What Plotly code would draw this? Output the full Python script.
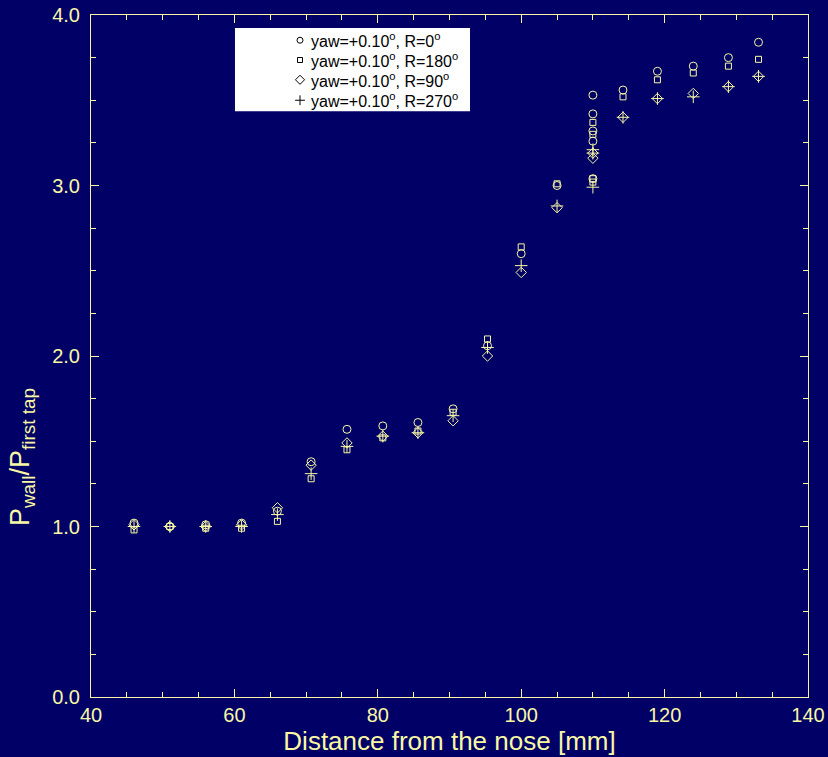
import plotly.graph_objects as go

# Wall pressure ratio along the body, four roll orientations at yaw = +0.10 deg
x_r0 = [46, 51, 56, 61, 66, 70.7, 75.7, 80.7, 85.6, 90.5, 95.3, 100, 105,
        110, 110, 110, 110, 110, 114.2, 119, 124, 128.9, 133.1]
y_r0 = [1.02, 1.00, 1.01, 1.02, 1.09, 1.38, 1.57, 1.59, 1.61, 1.69, 2.06, 2.60, 3.00,
        3.53, 3.42, 3.32, 3.26, 3.04, 3.56, 3.67, 3.70, 3.75, 3.84]

x_r180 = [46, 51, 56, 61, 66, 70.7, 75.7, 80.7, 85.6, 90.5, 95.3, 100, 105,
          110, 110, 110, 110, 114.2, 119, 124, 128.9, 133.1]
y_r180 = [0.98, 1.00, 0.99, 0.99, 1.03, 1.28, 1.45, 1.52, 1.56, 1.67, 2.10, 2.64, 3.01,
          3.37, 3.30, 3.04, 3.02, 3.52, 3.62, 3.66, 3.70, 3.74]

x_r90 = [46, 51, 56, 61, 66, 70.7, 75.7, 80.7, 85.6, 90.5, 95.3, 100, 105,
         110, 110, 114.2, 119, 124, 128.9, 133.1]
y_r90 = [1.01, 1.00, 1.00, 1.01, 1.11, 1.36, 1.49, 1.53, 1.55, 1.62, 2.00, 2.49, 2.87,
         3.19, 3.16, 3.40, 3.51, 3.54, 3.58, 3.64]

x_r270 = [46, 51, 56, 61, 66, 70.7, 75.7, 80.7, 85.6, 90.5, 95.3, 100, 105,
          110, 110, 110, 114.2, 119, 124, 128.9, 133.1]
y_r270 = [1.00, 1.00, 1.00, 1.00, 1.07, 1.31, 1.47, 1.53, 1.55, 1.65, 2.05, 2.53, 2.88,
          3.21, 3.19, 2.99, 3.40, 3.51, 3.52, 3.58, 3.64]

series_names = [
    "yaw=+0.10<sup>o</sup>, R=0<sup>o</sup>",
    "yaw=+0.10<sup>o</sup>, R=180<sup>o</sup>",
    "yaw=+0.10<sup>o</sup>, R=90<sup>o</sup>",
    "yaw=+0.10<sup>o</sup>, R=270<sup>o</sup>",
]

BG = "#000066"
FG = "#F8F8A4"
FONT = "Liberation Sans, Arial, sans-serif"

series = [
    (x_r0, y_r0, "circle-open", 8, 6),
    (x_r180, y_r180, "square-open", 6, 5),
    (x_r90, y_r90, "diamond-open", 8, 7),
    (x_r270, y_r270, "cross-thin-open", 9, 7),
]

fig = go.Figure()

for (xs, ys, sym, sz, _), name in zip(series, series_names):
    fig.add_trace(go.Scatter(
        x=xs, y=ys, mode="markers", name=name, showlegend=False,
        marker=dict(symbol=sym, size=sz, color=FG, line=dict(width=1, color=FG)),
    ))

# key box: white panel with black symbols and labels, on a hidden unit overlay axis
key_x = 0.2915
key_rows = [0.963, 0.934, 0.905, 0.875]
for (xs, ys, sym, _, ksz), name, ky in zip(series, series_names, key_rows):
    fig.add_trace(go.Scatter(
        x=[key_x], y=[ky], xaxis="x2", yaxis="y2", mode="markers",
        showlegend=False, hoverinfo="skip",
        marker=dict(symbol=sym, size=ksz, color="black", line=dict(width=1, color="black")),
    ))
    fig.add_annotation(
        xref="paper", yref="paper", x=key_x + 0.013, y=ky,
        xanchor="left", yanchor="middle", showarrow=False, text=name,
        font=dict(family=FONT, size=16, color="black"),
    )

fig.add_shape(type="rect", xref="paper", yref="paper",
              x0=0.2008, x1=0.5286, y0=0.859, y1=0.981,
              fillcolor="white", line=dict(width=0), layer="below")

axis_common = dict(
    showgrid=False, zeroline=False, showline=True, linecolor=FG, linewidth=1,
    mirror="ticks", ticks="inside", ticklen=8, tickcolor=FG, tickwidth=1,
    tickfont=dict(family=FONT, size=20, color=FG), automargin=False,
)

fig.update_xaxes(
    range=[40, 140], dtick=20, tick0=40,
    minor=dict(dtick=5, ticks="inside", ticklen=5, tickcolor=FG),
    title=dict(text="Distance from the nose [mm]", standoff=4,
               font=dict(family=FONT, size=26, color=FG)),
    **axis_common,
)
fig.update_yaxes(
    range=[0, 4], dtick=1, tick0=0, tickformat=".1f", ticklabelstandoff=6,
    minor=dict(dtick=0.25, ticks="inside", ticklen=5, tickcolor=FG),
    **axis_common,
)

# y-axis label sits below the vertical middle of the frame
fig.add_annotation(
    xref="paper", yref="paper", x=-0.096, y=0.352, xanchor="center", yanchor="middle",
    textangle=-90, showarrow=False,
    text="P<sub>wall</sub>/P<sub>first tap</sub>",
    font=dict(family=FONT, size=27, color=FG),
)

fig.update_layout(
    width=828, height=757,
    paper_bgcolor=BG, plot_bgcolor=BG,
    margin=dict(l=91, r=20, t=15, b=60, autoexpand=False),
    font=dict(family=FONT, color=FG),
    xaxis2=dict(overlaying="x", range=[0, 1], visible=False, domain=[0, 1]),
    yaxis2=dict(overlaying="y", range=[0, 1], visible=False, domain=[0, 1]),
    showlegend=False,
)

fig.write_html("out.html")
